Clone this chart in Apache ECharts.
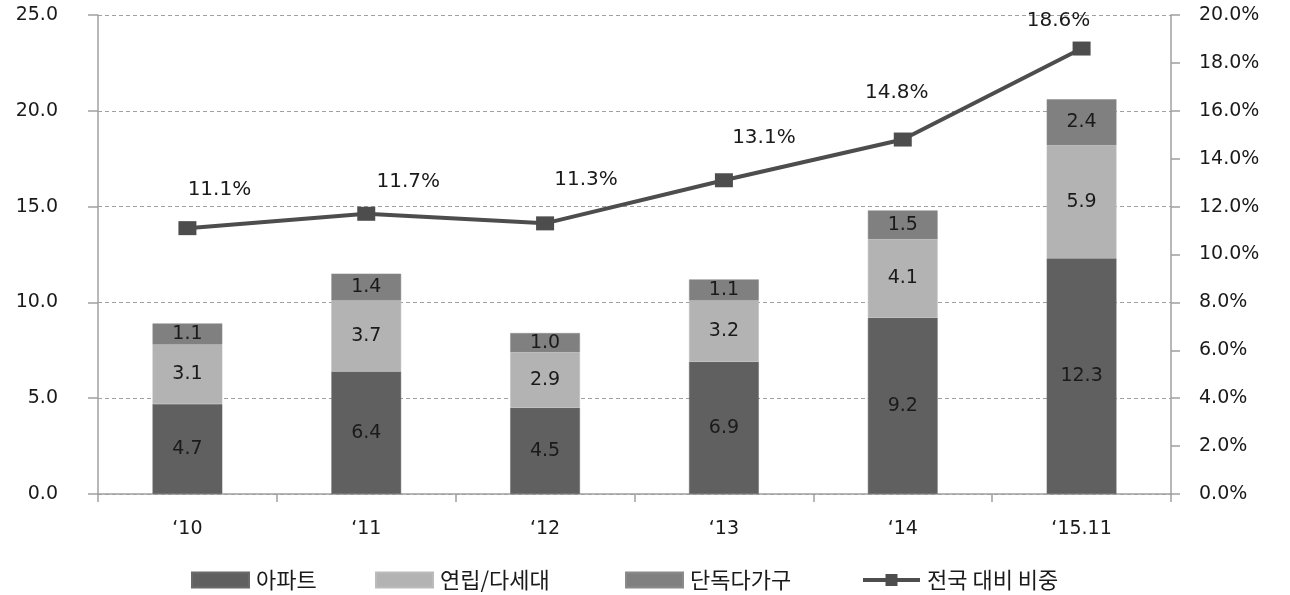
<!DOCTYPE html>
<html><head><meta charset="utf-8">
<script src="https://cdn.jsdelivr.net/npm/echarts@6/dist/echarts.min.js"></script>
<style>html,body{margin:0;padding:0;background:#fff}#c{width:1290px;height:595px}</style>
</head><body><div id="c"></div>
<script>
const categories = ['‘10', '‘11', '‘12', '‘13', '‘14', '‘15.11'];
const apartment = [4.7, 6.4, 4.5, 6.9, 9.2, 12.3];
const rowhouse = [3.1, 3.7, 2.9, 3.2, 4.1, 5.9];
const detached = [1.1, 1.4, 1.0, 1.1, 1.5, 2.4];
const share = [11.1, 11.7, 11.3, 13.1, 14.8, 18.6];
const leftTicks = [0, 5, 10, 15, 20, 25];
const rightTicks = [0, 2, 4, 6, 8, 10, 12, 14, 16, 18, 20];
const seriesNames = ['아파트', '연립/다세대', '단독다가구', '전국 대비 비중'];
// label offsets and legend positions (styling only)
const shareLabelOffsets = [[32, -13], [42, -7], [41, -19], [40, -17], [-6, -22], [-23, -3]];
const legendLefts = [186, 370, 620, 856];

const FONT = 'DejaVu Sans, Noto Sans CJK KR, sans-serif';
const KFONT = 'Noto Sans CJK KR, DejaVu Sans, sans-serif';
const axisColor = '#a0a0a0';
const txt = '#1a1a1a';

const barLabel = {show: true, position: 'inside', color: txt, fontSize: 19, fontFamily: FONT,
  textBorderWidth: 0, textBorderColor: 'transparent',
  formatter: p => p.value.toFixed(1)};

const legends = seriesNames.map((n, i) => ({
  top: 564, left: legendLefts[i], itemWidth: 57, itemHeight: 15, itemGap: 0,
  textStyle: {fontSize: 22, color: txt, fontFamily: KFONT, padding: [0, 0, 0, 2]},
  lineStyle: {width: 4},
  data: [i < 3 ? {name: n, icon: 'rect'} : {name: n}]
}));

const chart = echarts.init(document.getElementById('c'));
chart.setOption({
  animation: false,
  textStyle: {fontFamily: FONT},
  grid: {left: 98, right: 119, top: 15, bottom: 101, containLabel: false},
  legend: legends,
  xAxis: {
    type: 'category', data: categories,
    axisLine: {lineStyle: {color: axisColor, width: 1.5}},
    axisTick: {show: true, length: 8, lineStyle: {color: axisColor, width: 1.5}},
    axisLabel: {color: txt, fontSize: 19, margin: 26, fontFamily: FONT}
  },
  yAxis: [
    {
      type: 'value', min: 0, max: 25, interval: 5,
      axisLine: {show: true, lineStyle: {color: axisColor, width: 1.5}},
      axisTick: {show: true, inside: false, length: 10, lineStyle: {color: axisColor, width: 1.5}},
      axisLabel: {color: txt, fontSize: 19, margin: 40, fontFamily: FONT,
        formatter: v => leftTicks.includes(v) ? v.toFixed(1) : ''},
      splitLine: {show: true, lineStyle: {color: axisColor, type: [4, 3], width: 1}}
    },
    {
      type: 'value', min: 0, max: 20, interval: 2, position: 'right',
      axisLine: {show: true, lineStyle: {color: axisColor, width: 1.5}},
      axisTick: {show: true, length: 9, lineStyle: {color: axisColor, width: 1.5}},
      axisLabel: {color: txt, fontSize: 19, margin: 28, fontFamily: FONT,
        formatter: v => rightTicks.includes(v) ? v.toFixed(1) + '%' : ''},
      splitLine: {show: false}
    }
  ],
  series: [
    {name: seriesNames[0], type: 'bar', stack: 's', data: apartment, barWidth: '39%',
      itemStyle: {color: '#606060', borderColor: '#6a6a6a', borderWidth: 0.5}, label: barLabel},
    {name: seriesNames[1], type: 'bar', stack: 's', data: rowhouse,
      itemStyle: {color: '#b3b3b3', borderColor: '#bbb', borderWidth: 0.5}, label: barLabel},
    {name: seriesNames[2], type: 'bar', stack: 's', data: detached,
      itemStyle: {color: '#808080', borderColor: '#8a8a8a', borderWidth: 0.5}, label: barLabel},
    {name: seriesNames[3], type: 'line', yAxisIndex: 1,
      data: share.map((v, i) => ({value: v, label: {offset: shareLabelOffsets[i]}})),
      symbol: 'rect', symbolSize: [18, 14],
      lineStyle: {color: '#4d4d4d', width: 4},
      itemStyle: {color: '#4d4d4d'},
      label: {show: true, position: 'top', distance: 8, color: txt, fontSize: 20, fontFamily: FONT,
        formatter: p => p.value.toFixed(1) + '%'}}
  ]
});
</script></body></html>
